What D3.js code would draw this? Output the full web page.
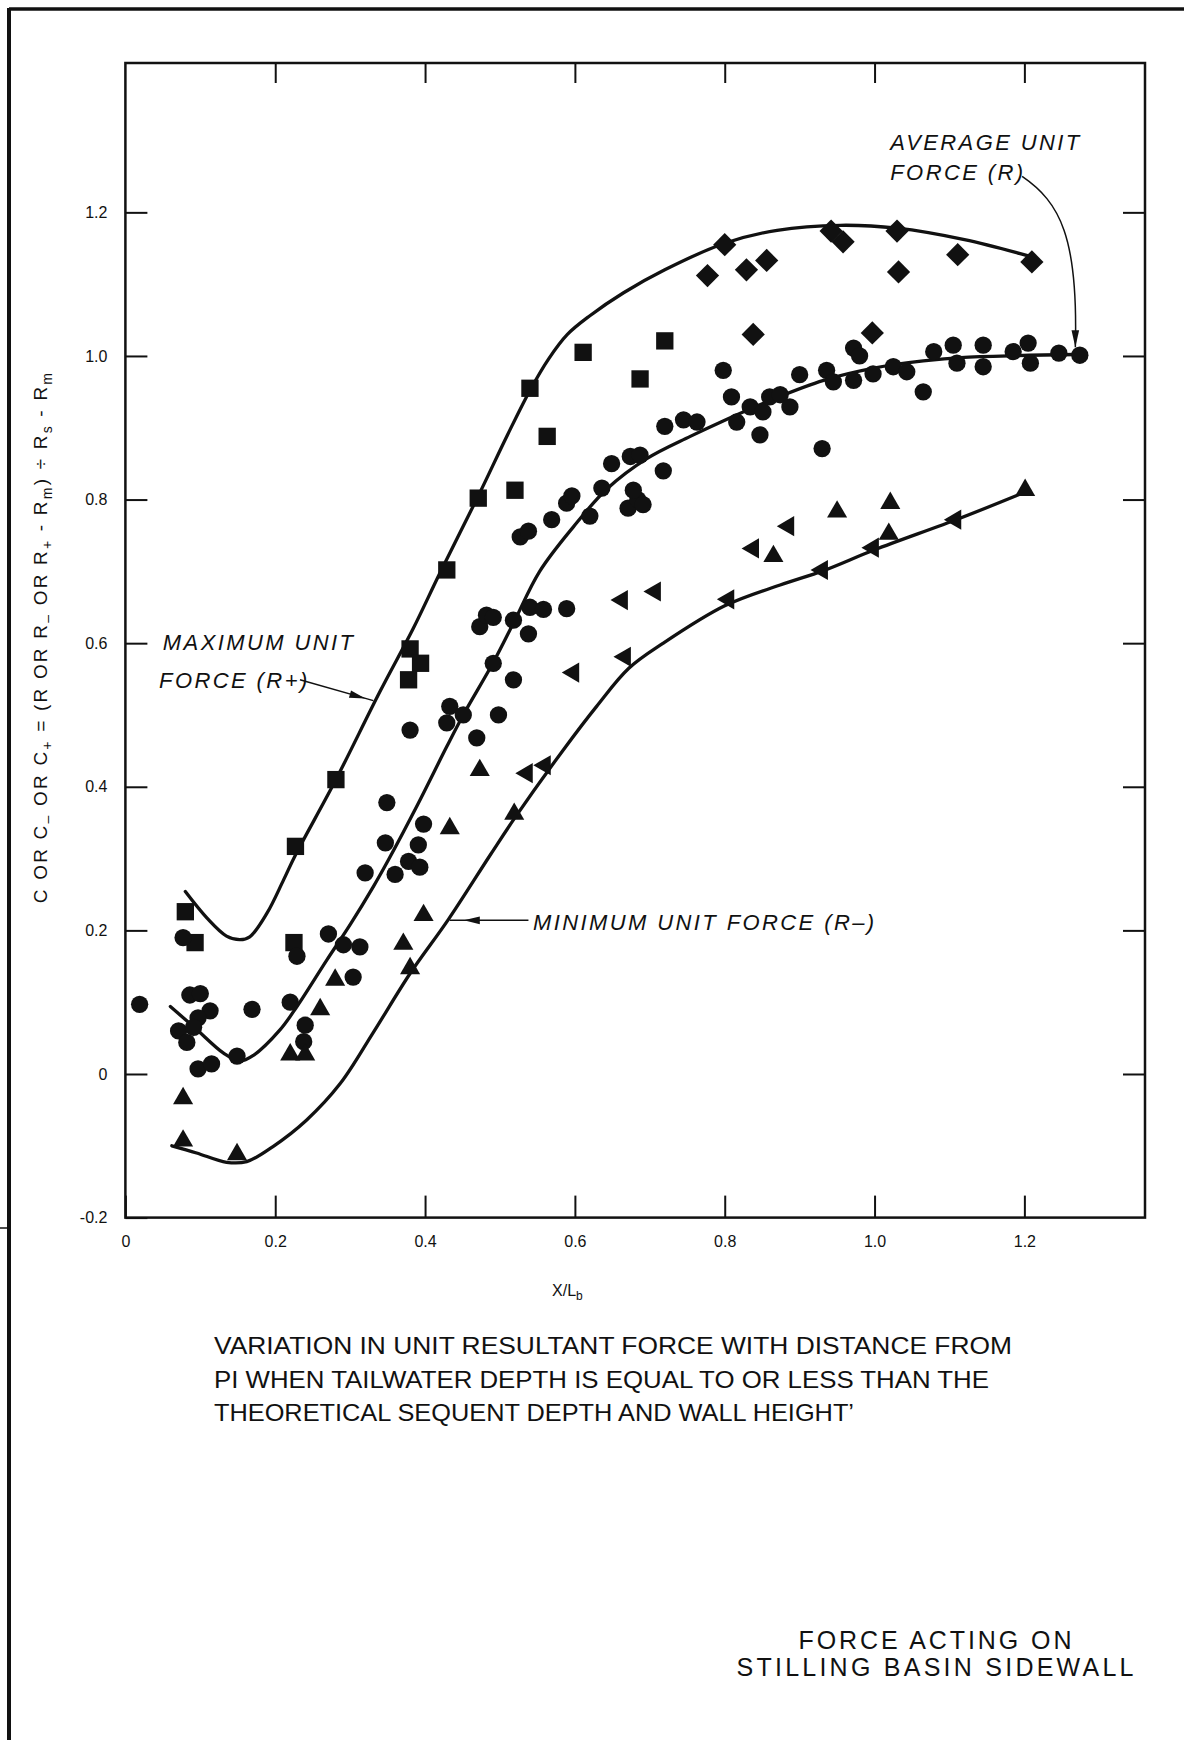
<!DOCTYPE html>
<html>
<head>
<meta charset="utf-8">
<script src="https://cdn.jsdelivr.net/npm/d3@7"></script>
<style>
body { margin: 0; background: #fff; }
svg { display: block; }
text { font-family: "Liberation Sans", Arial, sans-serif; fill: #111; }
</style>
</head>
<body>
<div id="chart"></div>
<script>
// values: [X/Lb, C]
var squares = [[0.08,0.226],[0.093,0.183],[0.225,0.183],[0.227,0.317],[0.281,0.41],[0.38,0.592],[0.394,0.572],
  [0.378,0.549],[0.429,0.702],[0.471,0.802],[0.52,0.813],[0.54,0.955],[0.563,0.888],[0.611,1.005],[0.687,0.968],[0.72,1.021]]

var diamonds = [[0.8,1.155],[0.777,1.112],[0.829,1.12],[0.856,1.133],[0.838,1.03],[0.942,1.174],[0.958,1.159],
  [1.03,1.174],[1.032,1.117],[1.111,1.141],[1.21,1.131],[0.997,1.032]]

var circles = [[0.019,0.097],[0.077,0.19],[0.086,0.11],[0.1,0.112],[0.113,0.088],[0.097,0.078],[0.071,0.06],
  [0.082,0.044],[0.091,0.065],[0.097,0.007],[0.115,0.014],[0.149,0.025],[0.169,0.09],[0.22,0.1],[0.229,0.164],
  [0.24,0.068],[0.238,0.045],[0.271,0.195],[0.291,0.18],[0.313,0.177],[0.304,0.135],
  [0.32,0.28],[0.349,0.378],[0.347,0.322],[0.36,0.278],[0.378,0.296],[0.391,0.319],[0.393,0.288],[0.398,0.348],
  [0.38,0.479],[0.429,0.489],[0.433,0.512],[0.451,0.5],[0.469,0.468],[0.498,0.5],[0.491,0.572],[0.518,0.549],
  [0.473,0.623],[0.482,0.639],[0.491,0.636],[0.518,0.632],[0.538,0.613],[0.54,0.65],[0.558,0.647],[0.589,0.648],
  [0.527,0.748],[0.538,0.756],[0.569,0.772],[0.589,0.795],[0.596,0.805],[0.62,0.777],[0.636,0.816],[0.649,0.85],
  [0.671,0.788],[0.684,0.8],[0.691,0.793],[0.678,0.813],[0.674,0.86],[0.687,0.862],[0.718,0.84],[0.72,0.902],
  [0.745,0.911],[0.763,0.908],[0.798,0.98],[0.809,0.943],[0.816,0.908],[0.834,0.929],[0.851,0.922],[0.847,0.89],
  [0.86,0.943],[0.874,0.946],[0.887,0.929],[0.9,0.974],[0.93,0.871],[0.936,0.98],[0.945,0.964],[0.972,1.011],
  [0.98,1.0],[0.972,0.966],[0.998,0.975],[1.025,0.985],[1.043,0.978],[1.065,0.95],[1.079,1.006],[1.105,1.015],
  [1.11,0.99],[1.145,1.015],[1.145,0.985],[1.185,1.006],[1.205,1.018],[1.208,0.99],[1.246,1.004],[1.274,1.001]]

var trianglesUp = [[0.077,-0.034],[0.077,-0.093],[0.149,-0.112],[0.22,0.027],[0.24,0.027],[0.26,0.09],[0.28,0.131],
  [0.371,0.181],[0.38,0.147],[0.398,0.221],[0.433,0.342],[0.473,0.423],[0.519,0.362],[0.865,0.721],[0.95,0.783],
  [1.021,0.795],[1.019,0.752],[1.201,0.813]]

var trianglesLeft = [[0.536,0.419],[0.56,0.43],[0.598,0.559],[0.667,0.581],[0.663,0.66],[0.707,0.672],[0.805,0.661],
  [0.838,0.732],[0.885,0.763],[0.93,0.702],[0.998,0.733],[1.108,0.772]]

// fitted curves as drawn on the figure
var maxCurve = [[0.08,0.254],[0.109,0.217],[0.135,0.192],[0.153,0.187],[0.166,0.191],[0.189,0.224],[0.211,0.27],
  [0.227,0.305],[0.28,0.408],[0.34,0.533],[0.384,0.62],[0.42,0.698],[0.471,0.805],[0.51,0.89],[0.54,0.952],
  [0.565,0.996],[0.59,1.03],[0.62,1.056],[0.665,1.088],[0.72,1.12],[0.8,1.157],[0.87,1.175],[0.954,1.182],
  [1.03,1.178],[1.12,1.162],[1.21,1.138]]

var avgCurve = [[0.06,0.094],[0.093,0.064],[0.131,0.029],[0.153,0.018],[0.171,0.026],[0.206,0.061],[0.229,0.094],
  [0.269,0.159],[0.3,0.208],[0.331,0.261],[0.351,0.298],[0.39,0.375],[0.429,0.456],[0.451,0.5],[0.491,0.573],
  [0.518,0.628],[0.553,0.7],[0.598,0.762],[0.643,0.815],[0.696,0.857],[0.754,0.888],[0.803,0.912],[0.865,0.94],
  [0.932,0.966],[0.999,0.983],[1.065,0.993],[1.12,0.998],[1.27,1.002]]

var minCurve = [[0.062,-0.1],[0.095,-0.11],[0.135,-0.123],[0.162,-0.122],[0.197,-0.101],[0.242,-0.064],
  [0.287,-0.013],[0.331,0.058],[0.38,0.14],[0.431,0.215],[0.487,0.305],[0.52,0.357],[0.585,0.452],[0.629,0.512],
  [0.672,0.565],[0.718,0.6],[0.8,0.652],[0.874,0.681],[0.932,0.701],[1.0,0.73],[1.114,0.774],[1.2,0.81]]

var xTicks = [0, 0.2, 0.4, 0.6, 0.8, 1.0, 1.2]
var xTickLabels = ["0", "0.2", "0.4", "0.6", "0.8", "1.0", "1.2"]
var yTicks = [-0.2, 0, 0.2, 0.4, 0.6, 0.8, 1.0, 1.2]
var yTickLabels = ["-0.2", "0", "0.2", "0.4", "0.6", "0.8", "1.0", "1.2"]

var captionLines = ["VARIATION IN UNIT RESULTANT FORCE WITH DISTANCE FROM",
  "PI WHEN TAILWATER DEPTH IS EQUAL TO OR LESS THAN THE",
  "THEORETICAL SEQUENT DEPTH AND WALL HEIGHT\u2019"]
var titleLines = ["FORCE ACTING ON", "STILLING BASIN SIDEWALL"]

// page and plot box
var width = 1184,
    height = 1740,
    plotLeft = 125.4, plotRight = 1145, plotTop = 63, plotBottom = 1217.6;

var svg = d3.select("#chart")
  .append("svg")
  .attr("width", width)
  .attr("height", height)

svg.append("rect").attr("width", width).attr("height", height).attr("fill", "#fff")

// scanned page border (top and left only)
svg.append("line").attr("x1", 9).attr("y1", 9).attr("x2", width).attr("y2", 9)
  .attr("stroke", "#111").attr("stroke-width", 3.5)
svg.append("line").attr("x1", 9).attr("y1", 8).attr("x2", 9).attr("y2", height)
  .attr("stroke", "#111").attr("stroke-width", 4)
svg.append("line").attr("x1", 0).attr("y1", 1228).attr("x2", 9).attr("y2", 1228)
  .attr("stroke", "#111").attr("stroke-width", 1.5)

var x = d3.scaleLinear().domain([0, 1.361]).range([plotLeft, plotRight])
var y = d3.scaleLinear().domain([-0.2, 1.408]).range([plotBottom, plotTop])

// axes with inward ticks
var fmtX = function(d, i) { return xTickLabels[i] }
var fmtY = function(d, i) { return yTickLabels[i] }

function styleAxis(g) {
  g.select(".domain").remove()
  g.selectAll(".tick line").attr("stroke", "#111").attr("stroke-width", 2)
  g.selectAll(".tick text").attr("fill", "#111").style("font-size", "16px")
    .style("font-family", "Liberation Sans, Arial, sans-serif")
}

svg.append("g").attr("transform", "translate(0," + plotBottom + ")")
  .call(d3.axisBottom(x).tickValues(xTicks).tickFormat(fmtX).tickSizeInner(-22).tickSizeOuter(0).tickPadding(18))
  .call(styleAxis)
svg.append("g").attr("transform", "translate(0," + plotTop + ")")
  .call(d3.axisTop(x).tickValues(xTicks.slice(1)).tickFormat("").tickSizeInner(-20).tickSizeOuter(0))
  .call(styleAxis)
svg.append("g").attr("transform", "translate(" + plotLeft + ",0)")
  .call(d3.axisLeft(y).tickValues(yTicks).tickFormat(fmtY).tickSizeInner(-22).tickSizeOuter(0).tickPadding(18))
  .call(styleAxis)
svg.append("g").attr("transform", "translate(" + plotRight + ",0)")
  .call(d3.axisRight(y).tickValues(yTicks.slice(1)).tickFormat("").tickSizeInner(-22).tickSizeOuter(0))
  .call(styleAxis)

// plot frame
svg.append("rect")
  .attr("x", plotLeft).attr("y", plotTop)
  .attr("width", plotRight - plotLeft).attr("height", plotBottom - plotTop)
  .attr("fill", "none").attr("stroke", "#111").attr("stroke-width", 2.5)

// curves
var line = d3.line()
  .x(function(d) { return x(d[0]) })
  .y(function(d) { return y(d[1]) })
  .curve(d3.curveCatmullRom.alpha(0.5))

svg.selectAll(".curve")
  .data([maxCurve, avgCurve, minCurve])
  .enter().append("path")
  .attr("class", "curve")
  .attr("d", line)
  .attr("fill", "none")
  .attr("stroke", "#111")
  .attr("stroke-width", 3.3)
  .attr("stroke-linecap", "round")

// markers
function addMarkers(data, type, size, angle) {
  svg.append("g").selectAll("path")
    .data(data)
    .enter().append("path")
    .attr("d", d3.symbol().type(type).size(size))
    .attr("transform", function(d) {
      return "translate(" + x(d[0]) + "," + y(d[1]) + ") rotate(" + angle + ")"
    })
    .attr("fill", "#111")
}
addMarkers(squares, d3.symbolSquare, 300, 0)
addMarkers(diamonds, d3.symbolSquare, 270, 45)
addMarkers(circles, d3.symbolCircle, 235, 0)
addMarkers(trianglesUp, d3.symbolTriangle, 175, 0)
addMarkers(trianglesLeft, d3.symbolTriangle, 175, -90)

// annotation helpers
function arrowHead(tx, ty, fx, fy, len, half) {
  var a = Math.atan2(ty - fy, tx - fx)
  var bx = tx - len * Math.cos(a), by = ty - len * Math.sin(a)
  var px = -Math.sin(a) * half, py = Math.cos(a) * half
  svg.append("path")
    .attr("d", "M" + tx + "," + ty + "L" + (bx + px) + "," + (by + py) + "L" + (bx - px) + "," + (by - py) + "Z")
    .attr("fill", "#111")
}

var note = svg.append("g")
  .style("font-style", "italic")
  .style("font-size", "22px")
  .style("letter-spacing", "2.4px")

// average unit force
note.append("text").attr("x", x(1.021)).attr("y", y(1.287)).text("AVERAGE UNIT")
note.append("text").attr("x", x(1.021)).attr("y", y(1.245)).text("FORCE (R)")
var a0 = [x(1.197), y(1.25)], a1 = [x(1.268), y(1.012)]
var ap = d3.path()
ap.moveTo(a0[0], a0[1])
ap.bezierCurveTo(a0[0] + 38, a0[1] + 26, a1[0] + 3, a1[1] - 110, a1[0], a1[1])
svg.append("path").attr("d", ap.toString()).attr("fill", "none").attr("stroke", "#111").attr("stroke-width", 1.5)
arrowHead(a1[0], a1[1], a1[0], a1[1] - 20, 17, 3.8)

// maximum unit force
note.append("text").attr("x", x(0.05)).attr("y", y(0.59)).text("MAXIMUM UNIT")
note.append("text").attr("x", x(0.045)).attr("y", y(0.537)).text("FORCE (R+)")
var m0 = [x(0.233), y(0.549)], m1 = [x(0.331), y(0.52)]
svg.append("line").attr("x1", m0[0]).attr("y1", m0[1]).attr("x2", m1[0]).attr("y2", m1[1])
  .attr("stroke", "#111").attr("stroke-width", 1.5)
arrowHead(m1[0] - 8, m1[1] - 2, m0[0], m0[1], 16, 3.8)

// minimum unit force
note.append("text").attr("x", x(0.544)).attr("y", y(0.2)).text("MINIMUM UNIT FORCE (R\u2013)")
var n0 = [x(0.433), y(0.214)], n1 = [x(0.538), y(0.214)]
svg.append("line").attr("x1", n0[0]).attr("y1", n0[1]).attr("x2", n1[0]).attr("y2", n1[1])
  .attr("stroke", "#111").attr("stroke-width", 1.5)
arrowHead(n0[0] + 14, n0[1], n1[0], n1[1], 16, 3.8)

// axis titles
var xt = svg.append("text")
  .attr("x", x(0.59)).attr("y", 1296)
  .attr("text-anchor", "middle")
  .style("font-size", "16px")
xt.append("tspan").text("X/L")
xt.append("tspan").attr("dy", 4).style("font-size", "12px").text("b")

var yt = svg.append("text")
  .attr("transform", "translate(47,637) rotate(-90)")
  .attr("text-anchor", "middle")
  .style("font-size", "19px")
  .style("letter-spacing", "2.2px")
var yParts = [["C OR C", 0], ["\u2013", 1], [" OR C", 0], ["+", 1], [" = (R OR R", 0], ["\u2013", 1], [" OR R", 0],
  ["+", 1], [" - R", 0], ["m", 1], [") \u00f7 R", 0], ["s", 1], [" - R", 0], ["m", 1]]
var prev = 0
yParts.forEach(function(p) {
  var shift = p[1] ? 5 : 0
  yt.append("tspan")
    .attr("dy", shift - prev)
    .style("font-size", p[1] ? "14px" : "19px")
    .text(p[0])
  prev = shift
})

// caption
svg.append("g").selectAll("text")
  .data(captionLines)
  .enter().append("text")
  .attr("x", 214)
  .attr("y", function(d, i) { return 1354 + i * 33.5 })
  .attr("textLength", function(d, i) { return [798, 775, 640][i] })
  .attr("lengthAdjust", "spacingAndGlyphs")
  .style("font-size", "24px")
  .text(function(d) { return d })

svg.append("g").selectAll("text")
  .data(titleLines)
  .enter().append("text")
  .attr("x", 935)
  .attr("y", function(d, i) { return 1649 + i * 27 })
  .attr("text-anchor", "middle")
  .attr("textLength", function(d, i) { return [273, 397][i] })
  .attr("lengthAdjust", "spacing")
  .style("font-size", "25px")
  .text(function(d) { return d })
</script>
</body>
</html>
